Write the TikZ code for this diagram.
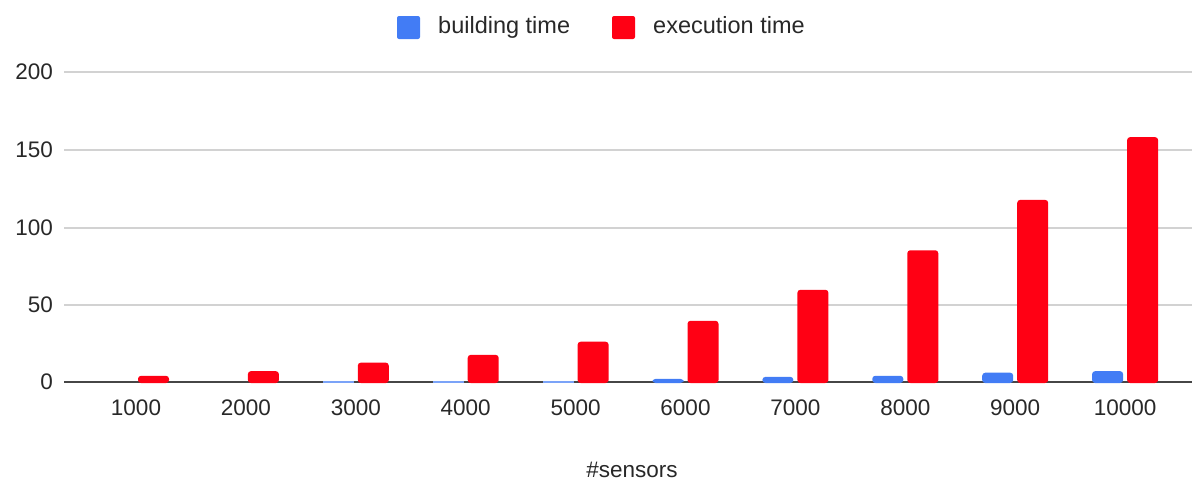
\documentclass[tikz,border=0pt]{standalone}
\usepackage{fontspec}
\setmainfont{Liberation Sans}
\definecolor{bblue}{RGB}{66,124,245}
\definecolor{bred}{RGB}{255,0,20}
\definecolor{gridgray}{RGB}{210,210,210}
\definecolor{axisgray}{RGB}{70,70,70}
\definecolor{txt}{RGB}{40,40,40}
\tikzset{
  tick/.style={text=txt,inner sep=0pt,font=\fontsize{22.5}{26}\selectfont},
  legtxt/.style={text=txt,inner sep=0pt,anchor=base west,font=\fontsize{23.5}{27}\selectfont},
  gridline/.style={draw=gridgray,line width=1.6pt},
  baseline/.style={draw=axisgray,line width=1.8pt},
  redbar/.style={fill=bred,rounded corners=3pt},
  bluebar/.style={fill=bblue,rounded corners=3pt},
}
\begin{document}
\begin{tikzpicture}[x=1pt,y=-1pt]
\useasboundingbox (0,0) rectangle (1192,483);
% legend
\fill[bblue,rounded corners=2pt] (397,16) rectangle (420,39);
\node[legtxt] (lb) at (438,33) {building time};
\fill[bred,rounded corners=2pt] (612,16) rectangle (635,39);
\node[legtxt] (le) at (653,33) {execution time};
% grid
\foreach \v/\y in {200/72,150/150,100/228,50/305}{
  \draw[gridline] (64,\y) -- (1192,\y);
  \node[tick,anchor=east] (y\v) at (53,\y) {\v};
}
\node[tick,anchor=east] (y0) at (53,382) {0};
\draw[baseline] (64,382) -- (1192,382);
% bars
\foreach \i/\lab/\b/\e in {0/1000/0/4,1/2000/0/7,2/3000/0.7/12.5,3/4000/0.7/17.5,4/5000/0.7/26,5/6000/2/39.5,6/7000/3.3/59.5,7/8000/4/85,8/9000/6/117.5,9/10000/7/158}{
  \pgfmathsetmacro{\c}{136+109.9*\i}
  \pgfmathsetmacro{\te}{382-1.55*\e}
  \pgfmathsetmacro{\tb}{382-1.55*\b}
  \fill[redbar] (\c+2,383) -- (\c+2,\te) -- (\c+33,\te) -- (\c+33,383) -- cycle;
  \ifdim \b pt>1.5pt
    \fill[bluebar] (\c-33,383) -- (\c-33,\tb) -- (\c-2,\tb) -- (\c-2,383) -- cycle;
  \else\ifdim \b pt>0pt
    \fill[bblue!70] (\c-33,381) rectangle (\c-2,383);
  \fi\fi
  \node[tick] (x\i) at (\c,408) {\lab};
}
\node[tick,anchor=base] (xt) at (632,477) {\#sensors};
\end{tikzpicture}
\end{document}
